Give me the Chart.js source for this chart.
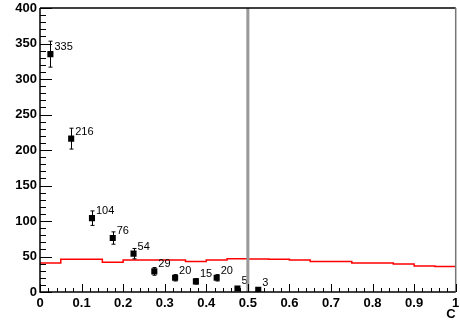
<!DOCTYPE html>
<html>
<head>
<meta charset="utf-8">
<script src="https://cdn.jsdelivr.net/npm/chart.js@4.4.1/dist/chart.umd.min.js"></script>
<style>
  body { margin: 0; background: #fff; }
  #wrap { width: 460px; height: 322px; }
</style>
</head>
<body>
<div id="wrap"><canvas id="myChart" width="460" height="322"></canvas></div>
<script>
// measured points (bin centres), counts and errors
let pointX = [0.025, 0.075, 0.125, 0.175, 0.225, 0.275, 0.325, 0.375, 0.425, 0.475, 0.525];
let pointY = [335, 216, 104, 76, 54, 29, 20, 15, 20, 5, 3];
let pointErr = [18.3, 14.7, 10.2, 8.7, 7.3, 5.4, 4.5, 3.9, 4.5, 2.2, 1.7];

// red reference histogram, 20 bins of 0.05
let binEdges = [0, 0.05, 0.1, 0.15, 0.2, 0.25, 0.3, 0.35, 0.4, 0.45, 0.5,
                0.55, 0.6, 0.65, 0.7, 0.75, 0.8, 0.85, 0.9, 0.95, 1];
let histCounts = [41, 46, 46, 42, 45, 45, 45, 43, 45, 47,
                  46.5, 46, 45, 43, 43, 41, 41, 39.5, 36.5, 36];

let cutX = 0.5;
let yTicks = [0, 400];

function histPoints(){
    let pts = [];
    for(let i=0;i<histCounts.length;i++){
        pts.push({x: binEdges[i], y: histCounts[i]});
    }
    pts.push({x: binEdges[binEdges.length-1], y: histCounts[histCounts.length-1]});
    return pts;
}

function scatterPoints(){
    let pts = [];
    for(let i=0;i<pointX.length;i++){
        pts.push({x: pointX[i], y: pointY[i]});
    }
    return pts;
}

const extras = {
    id: 'extras',
    afterDatasetsDraw(chart){
        const ctx = chart.ctx;
        const xs = chart.scales.x;
        const ys = chart.scales.y;
        const area = chart.chartArea;
        ctx.save();

        // error bars
        ctx.strokeStyle = '#000';
        ctx.lineWidth = 1;
        for(let i=0;i<pointX.length;i++){
            let px = Math.round(xs.getPixelForValue(pointX[i])) + 0.5;
            let top = ys.getPixelForValue(pointY[i] + pointErr[i]);
            let bot = ys.getPixelForValue(Math.max(pointY[i] - pointErr[i], 0));
            ctx.beginPath();
            ctx.moveTo(px, top); ctx.lineTo(px, bot);
            ctx.moveTo(px-2, top); ctx.lineTo(px+2, top);
            ctx.moveTo(px-2, bot); ctx.lineTo(px+2, bot);
            ctx.stroke();
        }

        // value labels
        ctx.fillStyle = '#000';
        ctx.font = '11px "Liberation Sans", Arial, sans-serif';
        ctx.textAlign = 'left';
        ctx.textBaseline = 'middle';
        for(let i=0;i<pointX.length;i++){
            let px = xs.getPixelForValue(pointX[i]);
            let py = ys.getPixelForValue(pointY[i]);
            ctx.fillText(String(pointY[i]), px + 4, py - 7);
        }

        // gray cut line
        ctx.strokeStyle = '#999';
        ctx.lineWidth = 3;
        let cx = xs.getPixelForValue(cutX);
        ctx.beginPath();
        ctx.moveTo(cx, ys.getPixelForValue(yTicks[0]));
        ctx.lineTo(cx, ys.getPixelForValue(yTicks[1]));
        ctx.stroke();

        // frame top / right
        ctx.lineWidth = 1.5;
        ctx.strokeStyle = '#000';
        ctx.beginPath();
        ctx.moveTo(area.left, area.top); ctx.lineTo(area.right, area.top);
        ctx.stroke();
        ctx.strokeStyle = '#777';
        ctx.beginPath();
        ctx.moveTo(area.right, area.top); ctx.lineTo(area.right, area.bottom);
        ctx.stroke();

        // inside ticks
        ctx.strokeStyle = '#000';
        ctx.lineWidth = 1;
        ctx.beginPath();
        for(let i=0;i<=40;i++){
            let py = Math.round(ys.getPixelForValue(i*10)) + 0.5;
            let len = (i%5==0) ? 12 : 6;
            ctx.moveTo(area.left, py); ctx.lineTo(area.left + len, py);
        }
        for(let i=0;i<=50;i++){
            let px = Math.round(xs.getPixelForValue(i/50)) + 0.5;
            let len = (i%5==0) ? 8 : 4;
            ctx.moveTo(px, area.bottom); ctx.lineTo(px, area.bottom - len);
        }
        ctx.stroke();

        // axis lines
        ctx.lineWidth = 1.5;
        ctx.beginPath();
        ctx.moveTo(area.left, area.top); ctx.lineTo(area.left, area.bottom);
        ctx.lineTo(area.right, area.bottom);
        ctx.stroke();
        ctx.restore();
    }
};

function Place(){
    const ctx = document.getElementById('myChart');
    const tickFont = {family: '"Liberation Sans", Arial, sans-serif', size: 13, weight: 'bold'};

    new Chart(ctx, {
        type: 'scatter',
        data: {
            datasets: [{
                type: 'line',
                data: histPoints(),
                borderColor: '#ff0000',
                borderWidth: 1.5,
                pointRadius: 0,
                stepped: true,
                fill: false
            }, {
                data: scatterPoints(),
                backgroundColor: '#000',
                borderWidth: 0,
                pointStyle: 'rect',
                pointRadius: 4.3
            }]
        },
        plugins: [extras],
        options: {
            responsive: false,
            animation: false,
            events: [],
            layout: {padding: {top: 8, right: 3, left: 0, bottom: 0}},
            plugins: {legend: {display: false}, tooltip: {enabled: false}},
            scales: {
                x: {
                    type: 'linear',
                    min: 0,
                    max: 1,
                    grid: {display: false, drawTicks: false},
                    border: {display: false},
                    ticks: {
                        stepSize: 0.1, color: '#000', font: tickFont, padding: 4, maxRotation: 0, autoSkip: false,
                        callback: (v) => String(Math.round(v*10)/10)
                    },
                    title: {display: true, text: 'C', align: 'end', color: '#000', font: tickFont, padding: {top: 0, bottom: 0}},
                    afterFit(scale){ scale.height = 30; scale.paddingLeft = 0; scale.paddingRight = 0; }
                },
                y: {
                    min: yTicks[0],
                    max: yTicks[1],
                    grid: {display: false, drawTicks: false},
                    border: {display: false},
                    ticks: {stepSize: 50, color: '#000', font: tickFont, padding: 3},
                    afterFit(scale){ scale.width = 40; scale.paddingTop = 0; scale.paddingBottom = 0; }
                }
            }
        }
    });
}

Place();
</script>
</body>
</html>
